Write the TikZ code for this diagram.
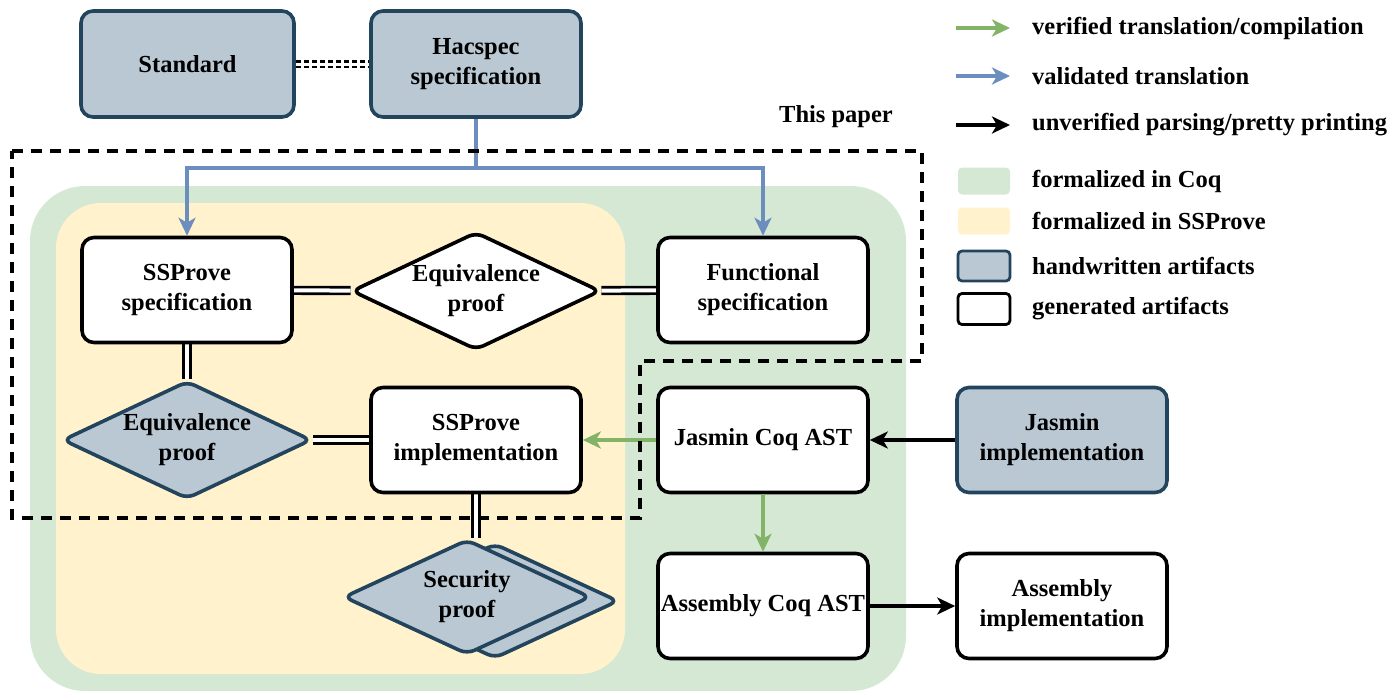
\documentclass[tikz,border=0pt]{standalone}
\usepackage{fontspec}
\setmainfont{Liberation Serif}
\usetikzlibrary{shapes.geometric,arrows.meta}
\definecolor{hwfill}{HTML}{BAC8D3}
\definecolor{hwdraw}{HTML}{23445D}
\definecolor{garrow}{HTML}{82B366}
\definecolor{barrow}{HTML}{6C8EBF}
\definecolor{gregion}{HTML}{D5E8D4}
\definecolor{yregion}{HTML}{FFF2CC}
\pgfdeclarelayer{regions}
\pgfdeclarelayer{links}
\pgfsetlayers{regions,links,main}
\begin{document}
\begin{tikzpicture}[x=1pt,y=-1pt,
  font=\fontsize{24.5}{30}\selectfont\bfseries,
  box/.style={draw=black, line width=3.6pt, fill=white, rounded corners=12pt,
    minimum width=210pt, minimum height=105pt, align=center, inner sep=0pt},
  hw/.style={draw=hwdraw, fill=hwfill},
  dia/.style={diamond, aspect=2.13, draw=black, line width=3.6pt, fill=white, rounded corners=8pt,
    minimum width=249pt, minimum height=118pt, align=center, inner sep=-4pt},
  dbl/.style={draw=black, line width=2.6pt, double=white, double distance=4pt},
  dbldash/.style={draw=black, line width=2.2pt, double=white, double distance=3pt, dash pattern=on 5pt off 3pt},
  tip/.style={-{Stealth[length=18pt,width=17pt,inset=5pt]}},
  garr/.style={tip, draw=garrow, line width=3.8pt},
  barr/.style={tip, draw=barrow, line width=3.8pt},
  karr/.style={tip, draw=black, line width=3.2pt},
  paper/.style={draw=black, line width=3.2pt, dash pattern=on 11pt off 8pt},
  legtext/.style={anchor=west, inner sep=0pt},
  legbox/.style={minimum width=52pt, minimum height=27pt, inner sep=0pt, rounded corners=4pt},
]
\useasboundingbox (0,0) rectangle (1390,691);

% regions
\begin{pgfonlayer}{regions}
  \fill[gregion, rounded corners=55pt] (30,186) rectangle (906,691);
  \fill[yregion, rounded corners=45pt] (56,203) rectangle (625,674);
\end{pgfonlayer}

% nodes
\node[box,hw, minimum width=213pt, minimum height=106pt] (std) at (187.5,64) {Standard};
\node[box,hw, minimum height=106pt] (hac) at (476,64) {Hacspec\\specification};
\node[box] (sspec) at (187,290) {SSProve\\specification};
\node[dia] (eq1) at (476,291) {Equivalence\\proof};
\node[box] (fspec) at (763,290) {Functional\\specification};
\node[dia,hw] (eq2) at (187,440) {Equivalence\\proof};
\node[box] (simpl) at (476,440) {SSProve\\implementation};
\node[box] (jca) at (763,440) {Jasmin Coq AST};
\node[box,hw] (jimpl) at (1062,440) {Jasmin\\implementation};
\node[box] (aca) at (763,606) {Assembly Coq AST};
\node[box] (aimpl) at (1062,606) {Assembly\\implementation};
\node[dia,hw, minimum width=247pt, minimum height=115pt] (secback) at (495,601) {};
\node[dia,hw, minimum width=247pt, minimum height=115pt] (secproof) at (467,597) {Security\\proof};
\node (thispaper) at (836,117) {This paper};

% links under nodes
\begin{pgfonlayer}{links}
  \draw[dbldash] (std) -- (hac);
  \draw[dbl] (sspec) -- (eq1);
  \draw[dbl] (eq1) -- (fspec);
  \draw[dbl] (sspec) -- (eq2);
  \draw[dbl] (eq2) -- (simpl);
  \draw[dbl] (simpl.south) -- (simpl.south |- secproof.north);
\end{pgfonlayer}

% blue translation
\coordinate (br) at (476,168);
\draw[draw=barrow, line width=3.8pt] (hac.south) -- (br);
\draw[barr] (br) -| (sspec.north);
\draw[barr] (br) -| (fspec.north);

% other arrows
\draw[garr] (jca) -- (simpl);
\draw[garr] (jca) -- (aca);
\draw[karr] (jimpl) -- (jca);
\draw[karr] (aca) -- (aimpl);

% this paper boundary
\draw[paper] (12,151) -- (922,151) -- (922,361) -- (640,361) -- (640,518) -- (12,518) -- cycle;

% legend
\coordinate (g1) at (956,28);  \coordinate (g2) at (1010,28);
\coordinate (b1) at (956,76);  \coordinate (b2) at (1010,76);
\coordinate (k1) at (956,125); \coordinate (k2) at (1010,125);
\draw[garr] (g1) -- (g2);
\draw[barr] (b1) -- (b2);
\draw[karr] (k1) -- (k2);
\node[legtext] (lt1) at (1032,28) {verified translation/compilation};
\node[legtext] (lt2) at (1032,76) {validated translation};
\node[legtext] (lt3) at (1032,125) {unverified parsing/pretty printing};
\node[legbox, fill=gregion] (lg) at (984,181) {};
\node[legbox, fill=yregion] (ly) at (984,221) {};
\node[legbox, fill=hwfill, draw=hwdraw, line width=2.8pt, minimum height=30pt] (lh) at (984,266) {};
\node[legbox, fill=white, draw=black, line width=2.8pt, minimum height=31pt] (lw) at (984,309) {};
\node[legtext] (lt4) at (1032,181) {formalized in Coq};
\node[legtext] (lt5) at (1032,221) {formalized in SSProve};
\node[legtext] (lt6) at (1032,266) {handwritten artifacts};
\node[legtext] (lt7) at (1032,309) {generated artifacts};
\end{tikzpicture}
\end{document}
